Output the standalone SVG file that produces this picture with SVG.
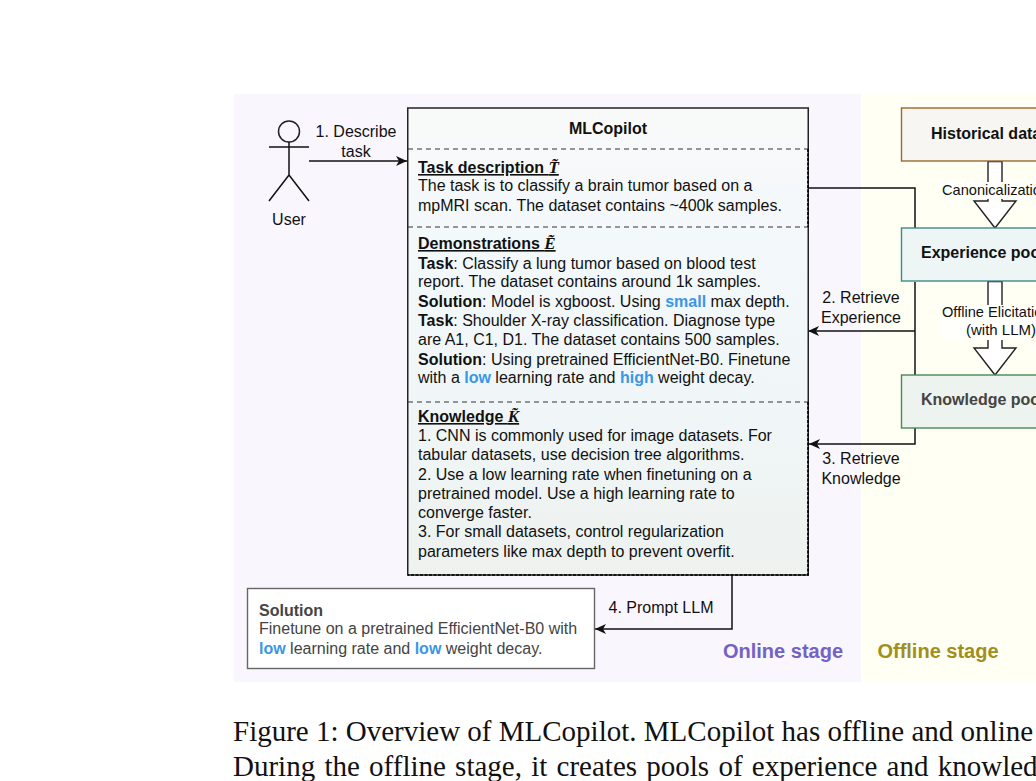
<svg xmlns="http://www.w3.org/2000/svg" width="1036" height="781" viewBox="0 0 1036 781">
<style>
text{font-family:"Liberation Sans",Arial,sans-serif;font-size:16px;fill:#111}
.b{font-weight:700}
.u{font-weight:700;text-decoration:underline}
.m{font-family:"Liberation Serif",serif;font-style:italic;font-weight:700;text-decoration:underline;font-size:17px}
.c{text-anchor:middle}
.h{fill:#3a96e8;font-weight:700}
.l{fill:none;stroke:#111;stroke-width:1.5}
.d{fill:none;stroke:#333;stroke-width:1;stroke-dasharray:5 4}
.dk{fill:none;stroke:#000;stroke-width:1.6;stroke-dasharray:3 1.500}
.cap{font-family:"Liberation Serif",serif;font-size:29px;fill:#111}
.fat{fill:#fff;stroke:#222;stroke-width:1.4}
.lb{fill:#fffffb}
.e{font-size:14.600px}
</style>
<defs>
<marker id="a" markerWidth="12" markerHeight="10" refX="11" refY="5" orient="auto" markerUnits="userSpaceOnUse"><path d="M0 0L11 5L0 10L3 5Z" fill="#111"/></marker>
<linearGradient id="g1" x1="0" y1="0" x2="0" y2="1"><stop offset="0" stop-color="#f9f9f9"/><stop offset=".3" stop-color="#f3f8fb"/><stop offset=".65" stop-color="#f0f6f7"/><stop offset="1" stop-color="#edf2ef"/></linearGradient>
</defs>
<rect id="online-stage" x="234" y="94" width="627" height="588" fill="#faf6fe"/>
<rect id="offline-stage" x="861" y="94" width="175" height="588" fill="#fffff4"/>
<text x="783" y="658" class="b c" style="font-size:20px;fill:#7262c4">Online stage</text>
<text x="938" y="658" class="b c" style="font-size:20px;fill:#a08f1c">Offline stage</text>

<g id="connectors">
<path class="l" d="M309 161H407" marker-end="url(#a)"/>
<path class="l" d="M808 188H915V228"/>
<path class="l" d="M915 282V375"/>
<path class="l" d="M915 331H808" marker-end="url(#a)"/>
<path class="l" d="M915 428V444H809" marker-end="url(#a)"/>
<path class="l" d="M732 575V629H595" marker-end="url(#a)"/>
<path class="fat" d="M988 161.500V201H974L995 228L1016 201H1002V161.500Z"/>
<path class="fat" d="M988 281.500V348H974L995 375L1016 348H1002V281.500Z"/>
</g>

<g id="user">
<circle cx="289" cy="131.500" r="10.500" fill="none" stroke="#222" stroke-width="1.5"/>
<path class="l" d="M289 142V175M269 147H309M269 201L289 175L309 201"/>
<text x="289" y="225" class="c">User</text>
</g>
<g id="label-1">
<text x="356" y="137" class="c">1. Describe</text>
<text x="356" y="157" class="c">task</text>
</g>

<g id="mlcopilot">
<rect x="407.750" y="108" width="400.500" height="467" fill="url(#g1)" stroke="#222" stroke-width="1.500"/>
<path class="d" d="M408 149H808M408 227H808M408 402H808"/>
<path class="dk" d="M808 149V227M808 402V575H408"/>
<text x="608" y="134" class="b c">MLCopilot</text>
<text x="418" y="173"><tspan class="u">Task description </tspan><tspan class="m">T̃</tspan></text>
<text x="418" y="191">The task is to classify a brain tumor based on a</text>
<text x="418" y="211">mpMRI scan. The dataset contains ~400k samples.</text>
<text x="418" y="249"><tspan class="u">Demonstrations </tspan><tspan class="m">Ẽ</tspan></text>
<text x="418" y="269"><tspan class="b">Task</tspan>: Classify a lung tumor based on blood test</text>
<text x="418" y="287">report. The dataset contains around 1k samples.</text>
<text x="418" y="307"><tspan class="b">Solution</tspan>: Model is xgboost. Using <tspan class="h">small</tspan> max depth.</text>
<text x="418" y="326"><tspan class="b">Task</tspan>: Shoulder X-ray classification. Diagnose type</text>
<text x="418" y="345">are A1, C1, D1. The dataset contains 500 samples.</text>
<text x="418" y="365"><tspan class="b">Solution</tspan>: Using pretrained EfficientNet-B0. Finetune</text>
<text x="418" y="383">with a <tspan class="h">low</tspan> learning rate and <tspan class="h">high</tspan> weight decay.</text>
<text x="418" y="422"><tspan class="u">Knowledge </tspan><tspan class="m">K̃</tspan></text>
<text x="418" y="441">1. CNN is commonly used for image datasets. For</text>
<text x="418" y="460">tabular datasets, use decision tree algorithms.</text>
<text x="418" y="480">2. Use a low learning rate when finetuning on a</text>
<text x="418" y="499">pretrained model. Use a high learning rate to</text>
<text x="418" y="518">converge faster.</text>
<text x="418" y="537">3. For small datasets, control regularization</text>
<text x="418" y="557">parameters like max depth to prevent overfit.</text>
</g>

<g id="solution">
<rect x="247.500" y="588.500" width="347" height="80" fill="#fff" stroke="#666" stroke-width="1.400"/>
<text x="259" y="616" class="b" style="fill:#444">Solution</text>
<text x="259" y="634" style="fill:#444">Finetune on a pretrained EfficientNet-B0 with</text>
<text x="259" y="654" style="fill:#444"><tspan class="h">low</tspan> learning rate and <tspan class="h">low</tspan> weight decay.</text>
</g>
<g id="label-4"><text x="661" y="613" class="c">4. Prompt LLM</text></g>
<g id="label-2">
<text x="861" y="303" class="c">2. Retrieve</text>
<text x="861" y="323" class="c">Experience</text>
</g>
<g id="label-3">
<text x="861" y="464" class="c">3. Retrieve</text>
<text x="861" y="484" class="c">Knowledge</text>
</g>

<g id="historical-data">
<rect x="901.500" y="108" width="200" height="53" fill="#f7f6f3" stroke="#9a6a2c" stroke-width="1.400"/>
<text x="931" y="139" class="b">Historical data</text>
</g>
<g id="experience-pool">
<rect x="901.500" y="228" width="200" height="53" fill="#edf5f5" stroke="#3f8a8a" stroke-width="1.400"/>
<text x="921" y="258" class="b">Experience pool</text>
</g>
<g id="knowledge-pool">
<rect x="901.500" y="375" width="200" height="53" fill="#edf3ee" stroke="#4a8a55" stroke-width="1.400"/>
<text x="921" y="405" class="b" style="fill:#444">Knowledge pool</text>
</g>
<g id="label-canonicalization">
<rect class="lb" x="940" y="182" width="96" height="17"/>
<text x="942" y="195" class="e">Canonicalization</text>
</g>
<g id="label-elicitation">
<rect class="lb" x="940" y="305" width="96" height="35"/>
<text x="942" y="317" class="e">Offline Elicitation</text>
<text x="966" y="335" class="e" style="font-size:15px">(with LLM)</text>
</g>

<text x="233" y="741" class="cap">Figure 1: Overview of MLCopilot. MLCopilot has offline and online</text>
<text x="233" y="776" class="cap" style="word-spacing:2px">During the offline stage, it creates pools of experience and knowledge</text>
</svg>
